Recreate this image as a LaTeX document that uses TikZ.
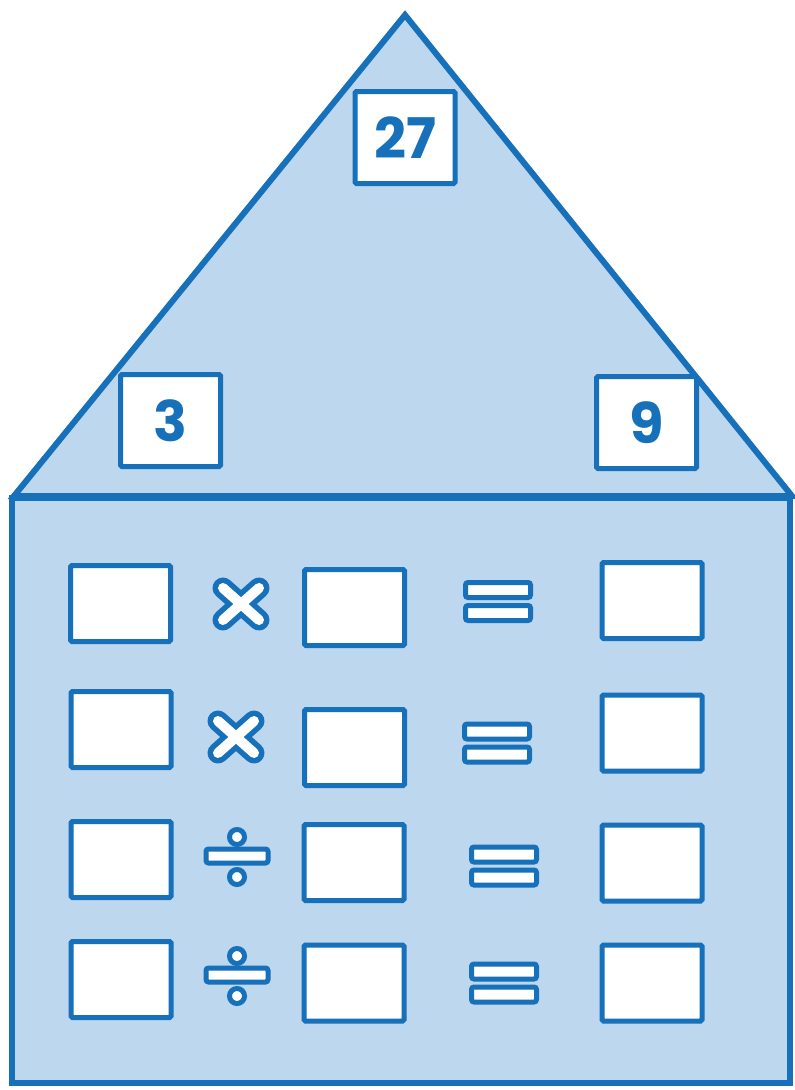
\documentclass[tikz,border=0pt]{standalone}
\usepackage{fontspec}
\setmainfont{Poppins}
\definecolor{Wall}{RGB}{189,215,238}
\definecolor{Ink}{RGB}{22,112,186}

\tikzset{
    box/.style={draw=Ink, line width=5pt, fill=white, rounded corners=1.5pt,
        minimum width=100pt, minimum height=76pt, inner sep=0pt},
    roofbox/.style={box, minimum height=92pt, text=Ink,
        font=\fontsize{56}{56}\selectfont\bfseries},
    bar/.style={draw=Ink, line width=5pt, fill=white, rounded corners=2.5pt},
}

\newcommand{\timessign}[1]{%
    \draw[Ink, line width=21pt, line cap=round, shift={#1}]
        (-18,-16) -- (18,16) (-18,16) -- (18,-16);
    \draw[white, line width=10pt, line cap=round, shift={#1}]
        (-18,-16) -- (18,16) (-18,16) -- (18,-16);
}
\newcommand{\dividesign}[1]{%
    \draw[bar, shift={#1}] (-31,-7) rectangle (31,7);
    \draw[Ink, line width=5pt, fill=white, shift={#1}]
        (0,-19) circle[radius=7.5pt] (0,21) circle[radius=7.5pt];
}
\newcommand{\equalsign}[1]{%
    \draw[bar, shift={#1}] (-32.5,-19) rectangle (32.5,-4);
    \draw[bar, shift={#1}] (-32.5,4) rectangle (32.5,19);
}

\begin{document}
\begin{tikzpicture}[x=1pt, y=-1pt]
    %% Background
    \useasboundingbox (0,0) rectangle (795,1090);

    %% House
    \draw[Ink, line width=6pt, fill=Wall] (14,496) -- (405,15) -- (792,496) -- cycle;
    \draw[Ink, line width=6pt, fill=Wall] (12,498) rectangle (790,1083);

    %% Roof
    \node[roofbox] (top) at (405,137.5) {27};
    \node[roofbox] (left) at (170.5,420.5) {3};
    \node[roofbox] (right) at (646.5,422.5) {9};

    %% Row 1
    \node[box] (r1a) at (120.5,603.5) {};
    \timessign{(241,604)}
    \node[box] (r1b) at (354.5,607.5) {};
    \equalsign{(498,601.5)}
    \node[box] (r1c) at (652,600.5) {};

    %% Row 2
    \node[box] (r2a) at (121,729.5) {};
    \timessign{(236,737)}
    \node[box] (r2b) at (354.5,747.5) {};
    \equalsign{(497,743)}
    \node[box] (r2c) at (652,733) {};

    %% Row 3
    \node[box] (r3a) at (121,859.5) {};
    \dividesign{(237,856)}
    \node[box] (r3b) at (354,862.5) {};
    \equalsign{(504,866)}
    \node[box] (r3c) at (652,863) {};

    %% Row 4
    \node[box] (r4a) at (121,979.5) {};
    \dividesign{(237,975)}
    \node[box] (r4b) at (354,983) {};
    \equalsign{(504,983)}
    \node[box] (r4c) at (652,983) {};

\end{tikzpicture}
\end{document}
